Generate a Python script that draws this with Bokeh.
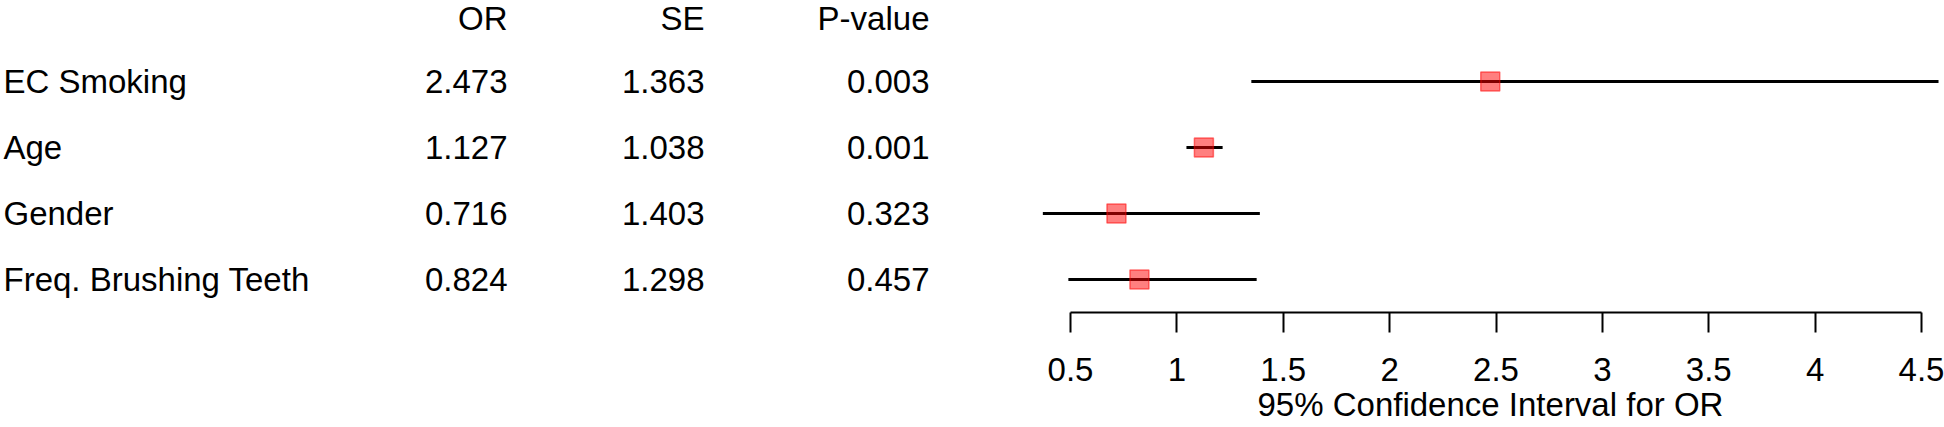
from bokeh.plotting import figure
from bokeh.models import Range1d, FixedTicker, Title, NumeralTickFormatter, ColumnDataSource
from bokeh.core.properties import value
from bokeh.embed import file_html
from bokeh.resources import INLINE

# ---------------- data ----------------
variables = ["EC Smoking", "Age", "Gender", "Freq. Brushing Teeth"]
odds_ratio = [2.473, 1.127, 0.716, 0.824]
std_err = [1.363, 1.038, 1.403, 1.298]
p_values = [0.003, 0.001, 0.323, 0.457]
ci_lower = [1.35, 1.045, 0.37, 0.49]
ci_upper = [4.58, 1.215, 1.39, 1.375]
header = ["OR", "SE", "P-value"]
ticks = [0.5, 1.0, 1.5, 2.0, 2.5, 3.0, 3.5, 4.0, 4.5]
x_label = "95% Confidence Interval for OR"
rows = [1, 2, 3, 4]

# ---------------- layout ----------------
W, H = 1944, 427
PX_PER_UNIT = 212.75
X0 = 0.5 - 1070 / PX_PER_UNIT
X1 = X0 + W / PX_PER_UNIT


def px(sx):
    """page x pixel -> data x"""
    return X0 + sx / PX_PER_UNIT


FONT = value("Liberation Sans")
TXT = "33px"

p = figure(width=W, height=H, output_backend="svg", toolbar_location=None,
           x_range=Range1d(X0, X1), y_range=Range1d(4.5, 1 - 81 / 66),
           y_axis_location=None, x_axis_location="below",
           min_border_left=0, min_border_right=0, min_border_top=0,
           min_border_bottom=115)
p.outline_line_color = None
p.xgrid.visible = False
p.ygrid.visible = False
p.background_fill_color = "white"
p.border_fill_color = "white"

# table
src = ColumnDataSource(dict(
    row=rows, var=variables,
    orv=["%.3f" % v for v in odds_ratio],
    sev=["%.3f" % v for v in std_err],
    pv=["%.3f" % v for v in p_values],
    lo=ci_lower, hi=ci_upper, est=odds_ratio,
))

p.text(x=px(3), y="row", text="var", source=src, text_align="left",
       text_baseline="middle", text_font=FONT, text_font_size=TXT, text_color="black")
col_x = [px(507), px(704), px(929)]
for cx, field in zip(col_x, ["orv", "sev", "pv"]):
    p.text(x=cx, y="row", text=field, source=src, text_align="right",
           text_baseline="middle", text_font=FONT, text_font_size=TXT, text_color="black")
p.text(x=col_x, y=[0, 0, 0], text=header, text_align="right", text_baseline="middle",
       y_offset=3, text_font=FONT, text_font_size=TXT, text_color="black")

# forest
p.segment(x0="lo", y0="row", x1="hi", y1="row", source=src, line_color="black", line_width=3)
p.scatter(x="est", y="row", source=src, marker="square", size=19,
          fill_color="red", fill_alpha=0.5, line_color="red", line_alpha=0.5, line_width=1.5)

# axis
ax = p.xaxis[0]
ax.bounds = (ticks[0], ticks[-1])
ax.ticker = FixedTicker(ticks=ticks)
ax.formatter = NumeralTickFormatter(format="0.[0]")
ax.major_tick_in = 0
ax.major_tick_out = 20
ax.minor_tick_line_color = None
ax.axis_line_width = 2
ax.major_tick_line_width = 2
ax.axis_line_color = "black"
ax.major_tick_line_color = "black"
ax.major_label_text_font = "Liberation Sans"
ax.major_label_text_font_size = TXT
ax.major_label_text_color = "black"
ax.major_label_standoff = 25

p.add_layout(Title(text=x_label, align="left", offset=1257, standoff=0,
                   text_font="Liberation Sans", text_font_size=TXT,
                   text_font_style="normal", text_color="black"), "below")

open("out.html", "w").write(file_html(p, INLINE))
